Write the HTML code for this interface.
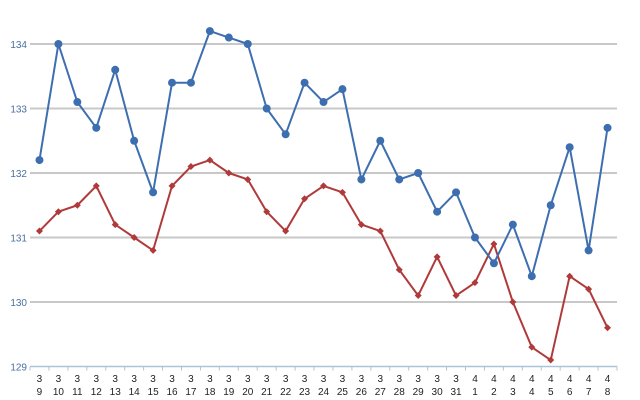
<!DOCTYPE html>
<html><head><meta charset="utf-8"><style>
html,body{margin:0;padding:0;background:#fff;width:640px;height:400px;overflow:hidden;font-family:"Liberation Sans",sans-serif;}
</style></head><body>
<svg id="chart" width="640" height="400" xmlns="http://www.w3.org/2000/svg"></svg>
<script>
const months = ["3","3","3","3","3","3","3","3","3","3","3","3","3","3","3","3","3","3","3","3","3","3","3","4","4","4","4","4","4","4","4"];
const days = ["9","10","11","12","13","14","15","16","17","18","19","20","21","22","23","24","25","26","27","28","29","30","31","1","2","3","4","5","6","7","8"];
const blueSeries = [132.2,134.0,133.1,132.7,133.6,132.5,131.7,133.4,133.4,134.2,134.1,134.0,133.0,132.6,133.4,133.1,133.3,131.9,132.5,131.9,132.0,131.4,131.7,131.0,130.6,131.2,130.4,131.5,132.4,130.8,132.7];
const redSeries = [131.1,131.4,131.5,131.8,131.2,131.0,130.8,131.8,132.1,132.2,132.0,131.9,131.4,131.1,131.6,131.8,131.7,131.2,131.1,130.5,130.1,130.7,130.1,130.3,130.9,130.0,129.3,129.1,130.4,130.2,129.6];
const yTicks = [129,130,131,132,133,134];

const NS="http://www.w3.org/2000/svg";
const svg=document.getElementById('chart');
const x0=30,x1=617,yTop=44,yBot=366.5,vMin=129,vMax=134;
const band=(x1-x0)/months.length;
function xPos(i){return x0+band*(i+0.5);}
function yPos(v){return yBot-(v-vMin)/(vMax-vMin)*(yBot-yTop);}
function mk(tag,attrs){const e=document.createElementNS(NS,tag);for(const k in attrs)e.setAttribute(k,attrs[k]);svg.appendChild(e);return e;}

yTicks.forEach(t=>{
  if(t!==vMin){
    const g=mk('line',{x1:x0,x2:x1,y1:yPos(t),y2:yPos(t),stroke:'#c8c8c8','stroke-width':2});
    
    
  }
  const l=mk('text',{x:27,y:yPos(t)+4,'font-size':10,fill:'#4a6fa0','text-anchor':'end'});
  l.textContent=t;
  
  
});
const ax=mk('line',{x1:x0,x2:x1,y1:yBot,y2:yBot,stroke:'#aac4dc','stroke-width':1.5});


for(let i=0;i<=months.length;i++){
  const tk=mk('line',{x1:x0+band*i,x2:x0+band*i,y1:yBot,y2:yBot+4,stroke:'#aac4dc','stroke-width':1});
  
  
}
months.forEach((m,i)=>{
  const t=mk('text',{x:xPos(i),y:382,'font-size':10,fill:'#222','text-anchor':'middle'});
  t.textContent=m;
  
  
  const d=mk('text',{x:xPos(i),y:395,'font-size':10,fill:'#222','text-anchor':'middle'});
  d.textContent=days[i];
  
  
});
function series(vals,color,name,marker){
  const p=mk('polyline',{points:vals.map((v,i)=>xPos(i)+','+yPos(v)).join(' '),fill:'none',stroke:color,'stroke-width':2,'stroke-linejoin':'round'});
  
  
  vals.forEach((v,i)=>{
    let m;
    if(marker==='circle') m=mk('circle',{cx:xPos(i),cy:yPos(v),r:4,fill:color});
    else {const x=xPos(i),y=yPos(v);m=mk('polygon',{points:`${x},${y-3.5} ${x+3.5},${y} ${x},${y+3.5} ${x-3.5},${y}`,fill:color});}
    
    
  });
}
series(redSeries,'#b03a3a','red-series','diamond');
series(blueSeries,'#3d6fb0','blue-series','circle');
</script>
</body></html>
